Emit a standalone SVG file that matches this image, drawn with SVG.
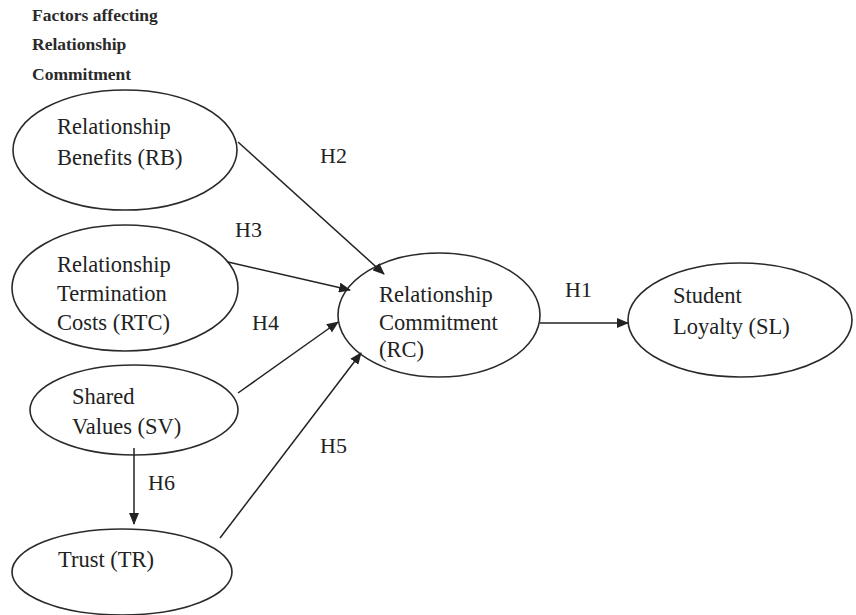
<svg xmlns="http://www.w3.org/2000/svg" width="856" height="615" viewBox="0 0 856 615">
<style>
.n{fill:#fff;stroke:#2a2a2a;stroke-width:1.6}
.t{font-family:"Liberation Serif",serif;font-size:22.5px;fill:#222}
.h{font-family:"Liberation Serif",serif;font-size:22px;fill:#222}
.ti{font-family:"Liberation Serif",serif;font-size:17.5px;font-weight:bold;fill:#2a2a2a}
.c{stroke:#222;stroke-width:1.5;fill:none;marker-end:url(#a)}
</style>
<defs>
<marker id="a" markerWidth="12" markerHeight="10" refX="11" refY="5" orient="auto" markerUnits="userSpaceOnUse">
<path d="M0,0 L12,5 L0,10 z" fill="#222"/>
</marker>
</defs>
<rect width="856" height="615" fill="#fff"/>
<g id="title">
<text class="ti" x="32" y="21">Factors affecting</text>
<text class="ti" x="32" y="50">Relationship</text>
<text class="ti" x="32" y="80">Commitment</text>
</g>
<g id="RB">
<ellipse class="n" cx="125" cy="150" rx="112" ry="60"/>
<text class="t" x="57" y="134">Relationship</text>
<text class="t" x="57" y="165">Benefits (RB)</text>
</g>
<g id="RTC">
<ellipse class="n" cx="125" cy="288" rx="113" ry="63"/>
<text class="t" x="57" y="272">Relationship</text>
<text class="t" x="57" y="301">Termination</text>
<text class="t" x="57" y="330">Costs (RTC)</text>
</g>
<g id="SV">
<ellipse class="n" cx="134" cy="410" rx="104" ry="45"/>
<text class="t" x="72" y="404">Shared</text>
<text class="t" x="72" y="434">Values (SV)</text>
</g>
<g id="TR">
<ellipse class="n" cx="122" cy="572" rx="110" ry="43"/>
<text class="t" x="58" y="567">Trust (TR)</text>
</g>
<g id="RC">
<ellipse class="n" cx="439" cy="315" rx="101" ry="62"/>
<text class="t" x="379" y="302">Relationship</text>
<text class="t" x="379" y="330">Commitment</text>
<text class="t" x="379" y="357">(RC)</text>
</g>
<g id="SL">
<ellipse class="n" cx="740" cy="320" rx="112" ry="57"/>
<text class="t" x="673" y="303">Student</text>
<text class="t" x="673" y="334">Loyalty (SL)</text>
</g>
<g id="connectors">
<line class="c" x1="238" y1="142" x2="384" y2="274"/>
<line class="c" x1="228" y1="262" x2="350" y2="290"/>
<line class="c" x1="238" y1="393" x2="338" y2="322"/>
<line class="c" x1="220" y1="538" x2="361" y2="353"/>
<line class="c" x1="540" y1="323" x2="628" y2="323"/>
<line class="c" x1="134" y1="448" x2="134" y2="524"/>
<text class="h" x="320" y="163">H2</text>
<text class="h" x="235" y="237">H3</text>
<text class="h" x="252" y="330">H4</text>
<text class="h" x="565" y="297">H1</text>
<text class="h" x="320" y="453">H5</text>
<text class="h" x="148" y="490">H6</text>
</g>
</svg>
